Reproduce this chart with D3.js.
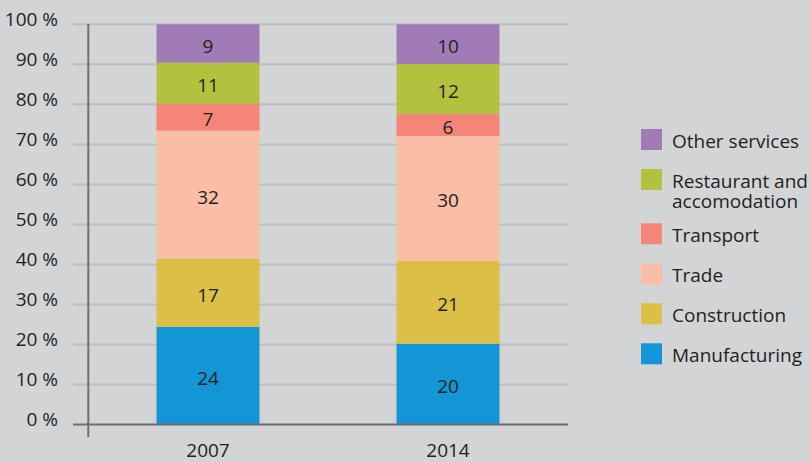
<!DOCTYPE html>
<html lang="en">
<head>
	<meta charset="UTF-8">
	<title>Employment by sector</title>

	<script src="https://cdn.jsdelivr.net/npm/d3@7"></script>

	<style>
		body{
			margin: 0;
			background: #d3d4d6;
		}
		text{
			font-family: "Open Sans";
			fill: #231f20;
		}
	</style>

</head>
<body>

<script type="text/javascript">

	var years = ['2007', '2014'];
	var sectors = ['Manufacturing', 'Construction', 'Trade', 'Transport', 'Restaurant and accomodation', 'Other services'];
	var colors = ['#1396d5', '#dcbf47', '#f9bea6', '#f58677', '#b2c23e', '#a07cb7'];

	// shares in % (bar heights) and the rounded labels printed on the bars
	var share2007 = [24.4, 17.0, 32.0, 6.8, 10.2, 9.6];
	var share2014 = [20.2, 20.7, 31.2, 5.5, 12.5, 9.9];
	var labels2007 = [24, 17, 32, 7, 11, 9];
	var labels2014 = [20, 21, 30, 6, 12, 10];

	var yTicks = [0, 10, 20, 30, 40, 50, 60, 70, 80, 90, 100];

	window.onload = function () {

		var width = 810, height = 462;

		var svg = d3.select('body').append('svg')
			.attr('width', width)
			.attr('height', height);

		var rows = years.map(function (yr, i) {
			var shares = i === 0 ? share2007 : share2014;
			var row = {year: yr};
			sectors.forEach(function (s, j) { row[s] = shares[j]; });
			return row;
		});
		var labelRows = [labels2007, labels2014];

		var x = d3.scaleBand()
			.domain(years)
			.range([88, 568])
			.paddingInner(0.571)
			.paddingOuter(0.2855);

		var y = d3.scaleLinear()
			.domain([0, 100])
			.range([424.6, 24.3]);

		// grid lines
		svg.append('g')
			.selectAll('line')
			.data(yTicks.filter(function (d) { return d > 0; }))
			.enter().append('line')
			.attr('x1', 73).attr('x2', 568)
			.attr('y1', function (d) { return y(d); })
			.attr('y2', function (d) { return y(d); })
			.attr('stroke', '#bcbdbf')
			.attr('stroke-width', 2);

		// y tick labels
		var yAxis = svg.append('g')
			.attr('transform', 'translate(88,0)')
			.call(d3.axisLeft(y).tickValues(yTicks).tickSize(0).tickPadding(30)
				.tickFormat(function (d) { return d + ' %'; }));
		yAxis.select('.domain').remove();
		yAxis.selectAll('text')
			.attr('dy', '0.05em')
			.attr('fill', '#231f20')
			.style('font-size', '19px')
			.style('font-family', '"Open Sans"');

		var stack = d3.stack().keys(sectors);
		var series = stack(rows);

		var groups = svg.append('g')
			.selectAll('g')
			.data(series)
			.enter().append('g')
			.attr('fill', function (d, i) { return colors[i]; });

		groups.selectAll('rect')
			.data(function (d) { return d; })
			.enter().append('rect')
			.attr('x', function (d) { return x(d.data.year); })
			.attr('y', function (d) { return y(d[1]); })
			.attr('width', x.bandwidth())
			.attr('height', function (d) { return y(d[0]) - y(d[1]); });

		// labels on the segments
		series.forEach(function (s, j) {
			svg.append('g')
				.selectAll('text')
				.data(s)
				.enter().append('text')
				.attr('x', function (d) { return x(d.data.year) + x.bandwidth() / 2; })
				.attr('y', function (d) { return (y(d[0]) + y(d[1])) / 2 + 9; })
				.attr('text-anchor', 'middle')
				.style('font-size', '19px')
				.text(function (d, i) { return labelRows[i][j]; });
		});

		// axes lines
		svg.append('line')
			.attr('x1', 73).attr('x2', 568)
			.attr('y1', y(0)).attr('y2', y(0))
			.attr('stroke', '#6d6e71')
			.attr('stroke-width', 2);
		svg.append('line')
			.attr('x1', 88.3).attr('x2', 88.3)
			.attr('y1', 24).attr('y2', 437)
			.attr('stroke', '#6d6e71')
			.attr('stroke-width', 2);

		// x labels
		svg.append('g')
			.selectAll('text')
			.data(years)
			.enter().append('text')
			.attr('x', function (d) { return x(d) + x.bandwidth() / 2; })
			.attr('y', 456.5)
			.attr('text-anchor', 'middle')
			.style('font-size', '19px')
			.text(function (d) { return d; });

		// legend, top to bottom
		var legend = svg.append('g').attr('transform', 'translate(641,0)');
		var ly = 129;
		for (var k = sectors.length - 1; k >= 0; k--) {
			var lines = sectors[k] === 'Restaurant and accomodation'
				? ['Restaurant and', 'accomodation'] : [sectors[k]];
			legend.append('rect')
				.attr('x', 0).attr('y', ly)
				.attr('width', 21).attr('height', 21)
				.attr('fill', colors[k]);
			lines.forEach(function (ln, n) {
				legend.append('text')
					.attr('x', 31)
					.attr('y', ly + 18.5 + n * 20)
					.style('font-size', '19px')
					.text(ln);
			});
			ly += 40 + (lines.length - 1) * 14.3;
		}
	};
</script>

</body>
</html>
